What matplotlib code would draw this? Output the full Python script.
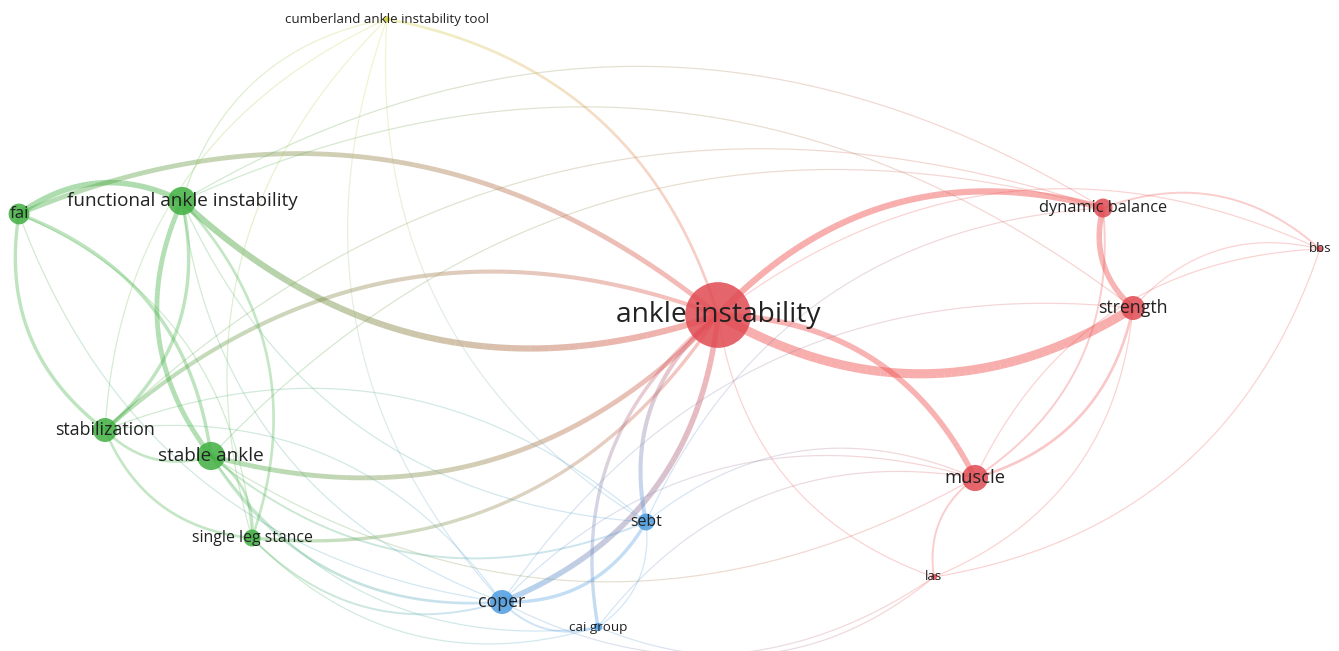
import numpy as np
import matplotlib.pyplot as plt
from matplotlib.collections import LineCollection
from matplotlib.colors import to_rgb

plt.rcParams['font.family'] = ['Open Sans', 'DejaVu Sans']

# keyword map (VOSviewer-like co-occurrence network)
keywords = ["ankle instability", "functional ankle instability", "fai", "stabilization",
            "stable ankle", "single leg stance", "cumberland ankle instability tool",
            "dynamic balance", "strength", "bbs", "muscle", "las",
            "sebt", "coper", "cai group"]
cluster = [1, 2, 2, 2, 2, 2, 4, 1, 1, 1, 1, 1, 3, 3, 3]
map_x = [0.48, -4.88, -6.51, -5.65, -4.59, -4.18, -2.83, 4.33, 4.63, 6.50, 3.05, 2.64, -0.24, -1.68, -0.72]
map_y = [0.10, 1.24, 1.11, -1.05, -1.31, -2.13, 3.06, 1.17, 0.17, 0.76, -1.53, -2.52, -1.97, -2.77, -3.02]
occurrences = [120, 22, 12, 16, 22, 8, 1, 10, 16, 1, 19, 1, 8, 16, 2]

# links: source, target, link strength, bend side
link_a = ["ankle instability", "ankle instability", "ankle instability", "dynamic balance",
          "strength", "dynamic balance", "dynamic balance", "strength", "muscle",
          "ankle instability", "muscle", "strength", "ankle instability", "bbs",
          "fai", "fai", "fai", "fai", "functional ankle instability",
          "functional ankle instability", "functional ankle instability", "stabilization",
          "stabilization", "stable ankle",
          "fai", "functional ankle instability", "stabilization", "stable ankle",
          "single leg stance", "functional ankle instability", "functional ankle instability",
          "stable ankle", "stabilization", "stable ankle",
          "cumberland ankle instability tool", "functional ankle instability", "stabilization",
          "cumberland ankle instability tool", "cumberland ankle instability tool",
          "cumberland ankle instability tool",
          "coper", "sebt", "cai group", "coper", "coper", "sebt",
          "stable ankle", "stable ankle", "single leg stance", "stabilization", "stabilization",
          "functional ankle instability", "fai", "functional ankle instability",
          "sebt", "coper", "cai group", "sebt", "coper", "single leg stance", "stable ankle",
          "coper", "cai group"]
link_b = ["strength", "dynamic balance", "muscle", "strength",
          "muscle", "muscle", "bbs", "bbs", "bbs",
          "bbs", "las", "las", "las", "las",
          "functional ankle instability", "stabilization", "stable ankle", "single leg stance",
          "stable ankle", "stabilization", "single leg stance", "stable ankle",
          "single leg stance", "single leg stance",
          "ankle instability", "ankle instability", "ankle instability", "ankle instability",
          "ankle instability", "dynamic balance", "strength",
          "muscle", "dynamic balance", "dynamic balance",
          "ankle instability", "cumberland ankle instability tool", "cumberland ankle instability tool",
          "single leg stance", "coper", "sebt",
          "ankle instability", "ankle instability", "ankle instability", "sebt", "cai group", "cai group",
          "coper", "sebt", "coper", "coper", "sebt",
          "coper", "coper", "sebt",
          "muscle", "muscle", "muscle", "dynamic balance", "strength", "cai group", "cai group",
          "las", "las"]
link_w = [12, 8, 7, 7,
          3, 2, 2, 1, 1,
          1, 2, 1, 1, 1,
          7, 4, 4, 1, 6, 4, 3, 3, 3, 3,
          6, 8, 5, 6, 4, 1, 1,
          1, 1, 1,
          3, 1, 1, 1, 1, 1,
          7, 5, 4, 4, 2, 1,
          3, 2, 2, 1, 1,
          1, 1, 1,
          1, 1, 1, 1, 1, 1, 1,
          1, 1]
link_bend = [1, -1, -1, 1,
             -1, -1, -1, -1, -1,
             -1, 1, -1, 1, -1,
             -1, 1, -1, -1, 1, -1, -1, 1, 1, -1,
             -1, 1, -1, 1, 1, -1, -1,
             1, -1, -1,
             -1, -1, -1, 1, 1, 1,
             1, -1, -1, 1, 1, -1,
             1, 1, 1, -1, -1,
             1, 1, 1,
             -1, -1, -1, -1, -1, 1, 1,
             1, 1]

cluster_colors = {1: '#ee4d4b', 2: '#40b041', 3: '#4d9de0', 4: '#cfd43a'}

fig = plt.figure(figsize=(13.39, 6.51), dpi=100)
ax = fig.add_axes([0, 0, 1, 1])
ax.set_xlim(-6.70, 6.69)
ax.set_ylim(-3.26, 3.25)
ax.set_aspect('equal')
ax.axis('off')

idx = {k: i for i, k in enumerate(keywords)}
pos = np.column_stack([map_x, map_y])
node_rgb = [np.array(to_rgb(cluster_colors[c])) for c in cluster]

t = np.linspace(0, 1, 60)[:, None]
for a, b, w, s in zip(link_a, link_b, link_w, link_bend):
    i, j = idx[a], idx[b]
    p0, p2 = pos[i], pos[j]
    d = p2 - p0
    # right-hand side on screen (y up in data coords)
    n = np.array([d[1], -d[0]])
    ctrl = (p0 + p2) / 2 + s * 0.3 * n
    pts = (1 - t) ** 2 * p0 + 2 * (1 - t) * t * ctrl + t ** 2 * p2
    segs = np.stack([pts[:-1], pts[1:]], axis=1)
    frac = (t[:-1, 0] + t[1:, 0]) / 2
    alpha = min(0.45, 0.22 + 0.03 * w)
    cols = [(*(node_rgb[i] * (1 - f) + node_rgb[j] * f), alpha) for f in frac]
    lc = LineCollection(segs, colors=cols, linewidths=0.35 + 0.52 * w,
                        capstyle='butt', zorder=1)
    ax.add_collection(lc)

radius_px = 3 * np.sqrt(occurrences)
sizes = (2 * radius_px * 0.72) ** 2
node_cols = ['#e04a52' if c == 1 else cluster_colors[c] for c in cluster]
ax.scatter(map_x, map_y, s=sizes, c=node_cols, alpha=0.85, linewidths=0, zorder=2)

for k, x, y, occ in zip(keywords, map_x, map_y, occurrences):
    fs = np.clip(8 + 1.2 * np.sqrt(occ), 9.6, 20.3)
    ax.text(x, y, k, ha='center', va='center', fontsize=fs, color='#222222', zorder=3)

fig.savefig('out.png', dpi=100, facecolor='white')
